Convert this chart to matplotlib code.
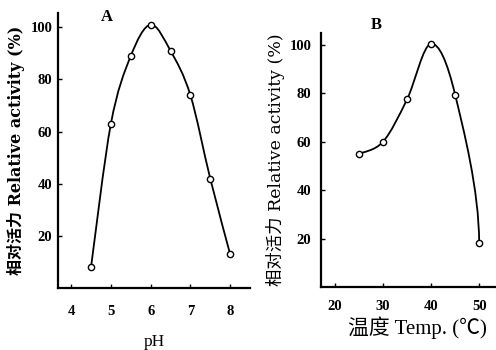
import numpy as np
import matplotlib.pyplot as plt
from matplotlib.path import Path
from matplotlib.patches import PathPatch

# data
ph = [4.5, 5.0, 5.5, 6.0, 6.5, 7.0, 7.5, 8.0]
act_ph = [8, 63, 89, 101, 91, 74, 42, 13]
temp = [25, 30, 35, 40, 45, 50]
act_temp = [55, 60, 77.5, 100.5, 79.5, 18]

serif = ['Liberation Serif', 'Noto Sans CJK SC']
wide_serif = ['DejaVu Serif', 'Noto Sans CJK SC']
ylab = '相对活力 Relative activity (%)'


def smooth_path(ax, x, y, end_drop=None):
    # catmull-rom -> cubic bezier through the measured points
    pts = np.column_stack([x, y]).astype(float)
    verts = [pts[0]]
    codes = [Path.MOVETO]
    n = len(pts)
    for i in range(n - 1):
        p0 = pts[max(i - 1, 0)]
        p1 = pts[i]
        p2 = pts[i + 1]
        p3 = pts[min(i + 2, n - 1)]
        c1 = p1 + (p2 - p0) / 6
        c2 = p2 - (p3 - p1) / 6
        if end_drop is not None and i == n - 2:
            # curve comes straight down into the last point
            c2 = p2 + np.array([0.0, end_drop])
        verts += [c1, c2, p2]
        codes += [Path.CURVE4] * 3
    ax.add_patch(PathPatch(Path(verts, codes), fill=False, lw=1.3, color='black', zorder=2))


fig = plt.figure(figsize=(4.96, 3.5), dpi=100)

# panel A
ax1 = fig.add_axes([0.117, 0.177, 0.387, 0.786])
smooth_path(ax1, ph, act_ph)
ax1.plot(ph, act_ph, 'o', ms=4.5, mfc='white', mec='black', mew=1, zorder=3)
ax1.set_xlim(3.67, 8.5)
ax1.set_ylim(0, 105.5)
ax1.set_xticks([4, 5, 6, 7, 8])
ax1.set_yticks([20, 40, 60, 80, 100])
ax1.text(4.9, 104, 'A', fontsize=12, fontweight='bold', family=serif, ha='center', va='center')
ax1.set_xlabel('pH', fontsize=12.5, family=serif, labelpad=12)
ax1.set_ylabel(ylab, fontsize=11.5, fontweight='bold', family=wide_serif, labelpad=4)
ax1.tick_params(axis='x', pad=12)
ax1.tick_params(axis='y', pad=4)

# panel B
ax2 = fig.add_axes([0.647, 0.18, 0.353, 0.726])
smooth_path(ax2, temp, act_temp, end_drop=22)
ax2.plot(temp, act_temp, 'o', ms=4.5, mfc='white', mec='black', mew=1, zorder=3)
ax2.set_xlim(17.1, 53.5)
ax2.set_ylim(0, 105)
ax2.set_xticks([20, 30, 40, 50])
ax2.set_yticks([20, 40, 60, 80, 100])
ax2.text(28.6, 108.3, 'B', fontsize=12, fontweight='bold', family=serif, ha='center', va='center')
ax2.set_xlabel('温度 Temp. (℃)', fontsize=15, family=serif)
ax2.xaxis.set_label_coords(0.55, -0.115)
ax2.set_ylabel(ylab, fontsize=12.5, family=wide_serif, labelpad=3)
ax2.tick_params(axis='x', pad=9)
ax2.tick_params(axis='y', pad=7)

for ax in (ax1, ax2):
    ax.spines['top'].set_visible(False)
    ax.spines['right'].set_visible(False)
    ax.spines['left'].set_linewidth(1.6)
    ax.spines['bottom'].set_linewidth(1.6)
    ax.tick_params(direction='in', length=3, width=1, labelsize=10.5)
    for lab in ax.get_xticklabels() + ax.get_yticklabels():
        lab.set_family(serif)
        lab.set_fontweight('bold')

fig.savefig('out.png', dpi=100)
